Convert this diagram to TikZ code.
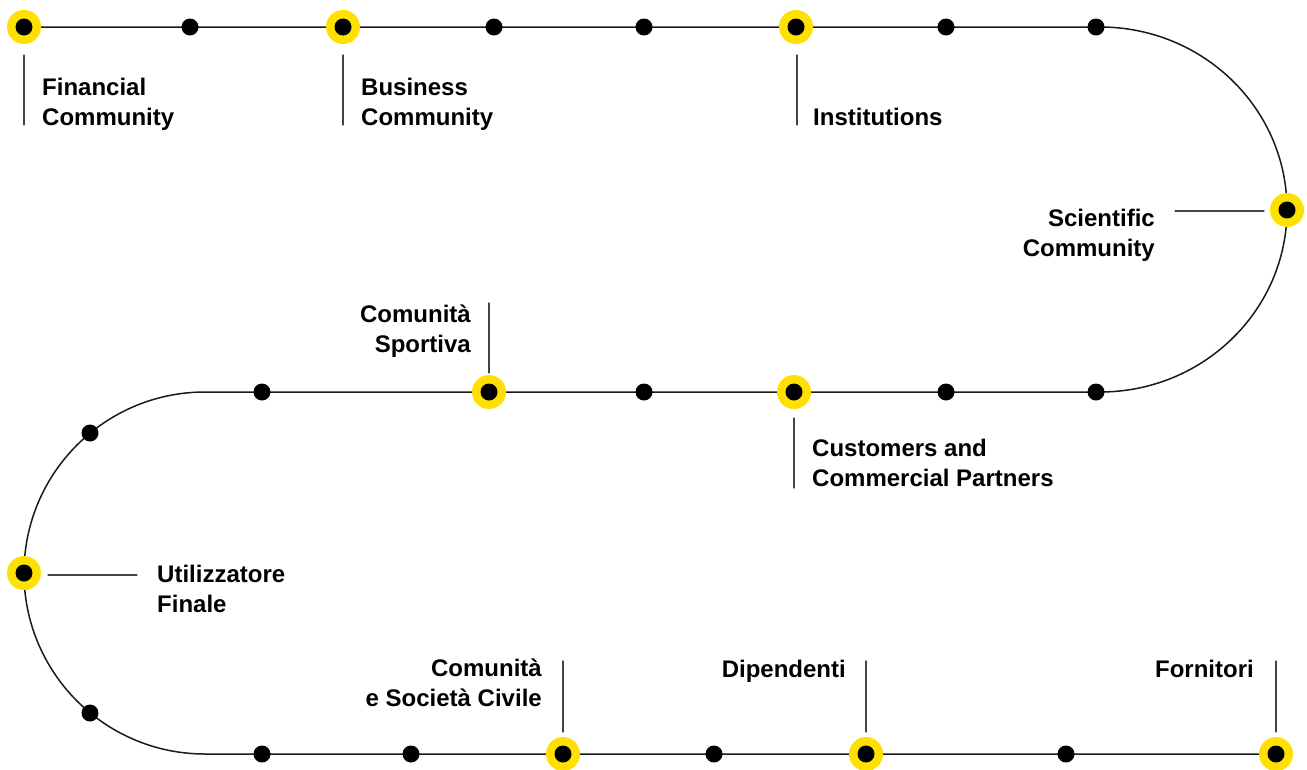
\documentclass[tikz,border=0pt]{standalone}
\usepackage{fontspec}
\setmainfont{Liberation Sans}
\definecolor{ylw}{HTML}{FFE000}
\definecolor{trk}{HTML}{1A1A1A}
\definecolor{tck}{HTML}{444444}
\tikzset{
  ydot/.style={circle, fill=ylw, inner sep=0pt, minimum size=34pt,
    path picture={\fill[black] (path picture bounding box.center) circle (8.5pt);}},
  bdot/.style={circle, fill=black, inner sep=0pt, minimum size=17pt},
  lab/.style={font=\fontsize{24}{29.5}\selectfont\bfseries, inner sep=0pt, text=black},
  labl/.style={lab, align=left, anchor=base west},
  labr/.style={lab, align=right, anchor=base east},
  tickline/.style={draw=tck, line width=1.1pt, line cap=round},
  track/.style={draw=trk, line width=1.5pt}
}
\begin{document}
\begin{tikzpicture}[x=1pt,y=-1pt]
\useasboundingbox (0,0) rectangle (1307,769);
\fill[white] (0,0) rectangle (1307,769);
% track
\coordinate (s) at (24,27);
\coordinate (r1) at (1100,27);
\coordinate (r2) at (1100,392);
\coordinate (l1) at (205,392);
\coordinate (l2) at (205,754);
\coordinate (e) at (1276,754);
\draw[track] (s) -- (r1) arc[start angle=-90, end angle=90, x radius=187, y radius=182.5]
  -- (l1) arc[start angle=-90, end angle=-270, radius=181] -- (e);
% top row
\node[ydot] (t1) at (24,27) {};
\node[bdot] (t2) at (190,27) {};
\node[ydot] (t3) at (343,27) {};
\node[bdot] (t4) at (494,27) {};
\node[bdot] (t5) at (644,27) {};
\node[ydot] (t6) at (796,27) {};
\node[bdot] (t7) at (946,27) {};
\node[bdot] (t8) at (1096,27) {};
% right arc
\node[ydot] (ra) at (1287,210) {};
% middle row
\node[bdot] (m1) at (1096,392) {};
\node[bdot] (m2) at (946,392) {};
\node[ydot] (m3) at (794,392) {};
\node[bdot] (m4) at (644,392) {};
\node[ydot] (m5) at (489,392) {};
\node[bdot] (m6) at (262,392) {};
% left arc
\node[bdot] (la1) at (90,433) {};
\node[ydot] (la2) at (24,573) {};
\node[bdot] (la3) at (90,713) {};
% bottom row
\node[bdot] (b1) at (262,754) {};
\node[bdot] (b2) at (411,754) {};
\node[ydot] (b3) at (563,754) {};
\node[bdot] (b4) at (714,754) {};
\node[ydot] (b5) at (866,754) {};
\node[bdot] (b6) at (1066,754) {};
\node[ydot] (b7) at (1276,754) {};
% labels (base = baseline of last line)
\node[labl] (fin) at (42,125) {Financial\\Community};
\node[labl] (bus) at (361,125) {Business\\Community};
\node[labl] (inst) at (813,125) {Institutions};
\node[labr] (sci) at (1155,256) {Scientific\\Community};
\node[labr] (spo) at (471,352) {Comunità\\Sportiva};
\node[labl] (cus) at (812,486) {Customers and\\Commercial Partners};
\node[labl] (uti) at (157,612) {Utilizzatore\\Finale};
\node[labr] (civ) at (542,706) {Comunità\\e Società Civile};
\node[labr] (dip) at (846,677) {Dipendenti};
\node[labr] (for) at (1254,677) {Fornitori};
% tick lines
\coordinate (fa) at (24,55);   \coordinate (fb) at (24,125);
\coordinate (ba) at (343,55);  \coordinate (bb) at (343,125);
\coordinate (ia) at (797,55);  \coordinate (ib) at (797,125);
\coordinate (sa) at (1264,211); \coordinate (sb) at (1175,211);
\coordinate (pa) at (489,373); \coordinate (pb) at (489,303);
\coordinate (ca) at (794,418); \coordinate (cb) at (794,488);
\coordinate (ua) at (48,575);  \coordinate (ub) at (137,575);
\coordinate (va) at (563,732); \coordinate (vb) at (563,661);
\coordinate (da) at (866,732); \coordinate (db) at (866,661);
\coordinate (oa) at (1276,732); \coordinate (ob) at (1276,661);
\foreach \a/\b in {fa/fb, ba/bb, ia/ib, sa/sb, pa/pb, ca/cb, ua/ub, va/vb, da/db, oa/ob}
  \draw[tickline] (\a) -- (\b);
\end{tikzpicture}
\end{document}
